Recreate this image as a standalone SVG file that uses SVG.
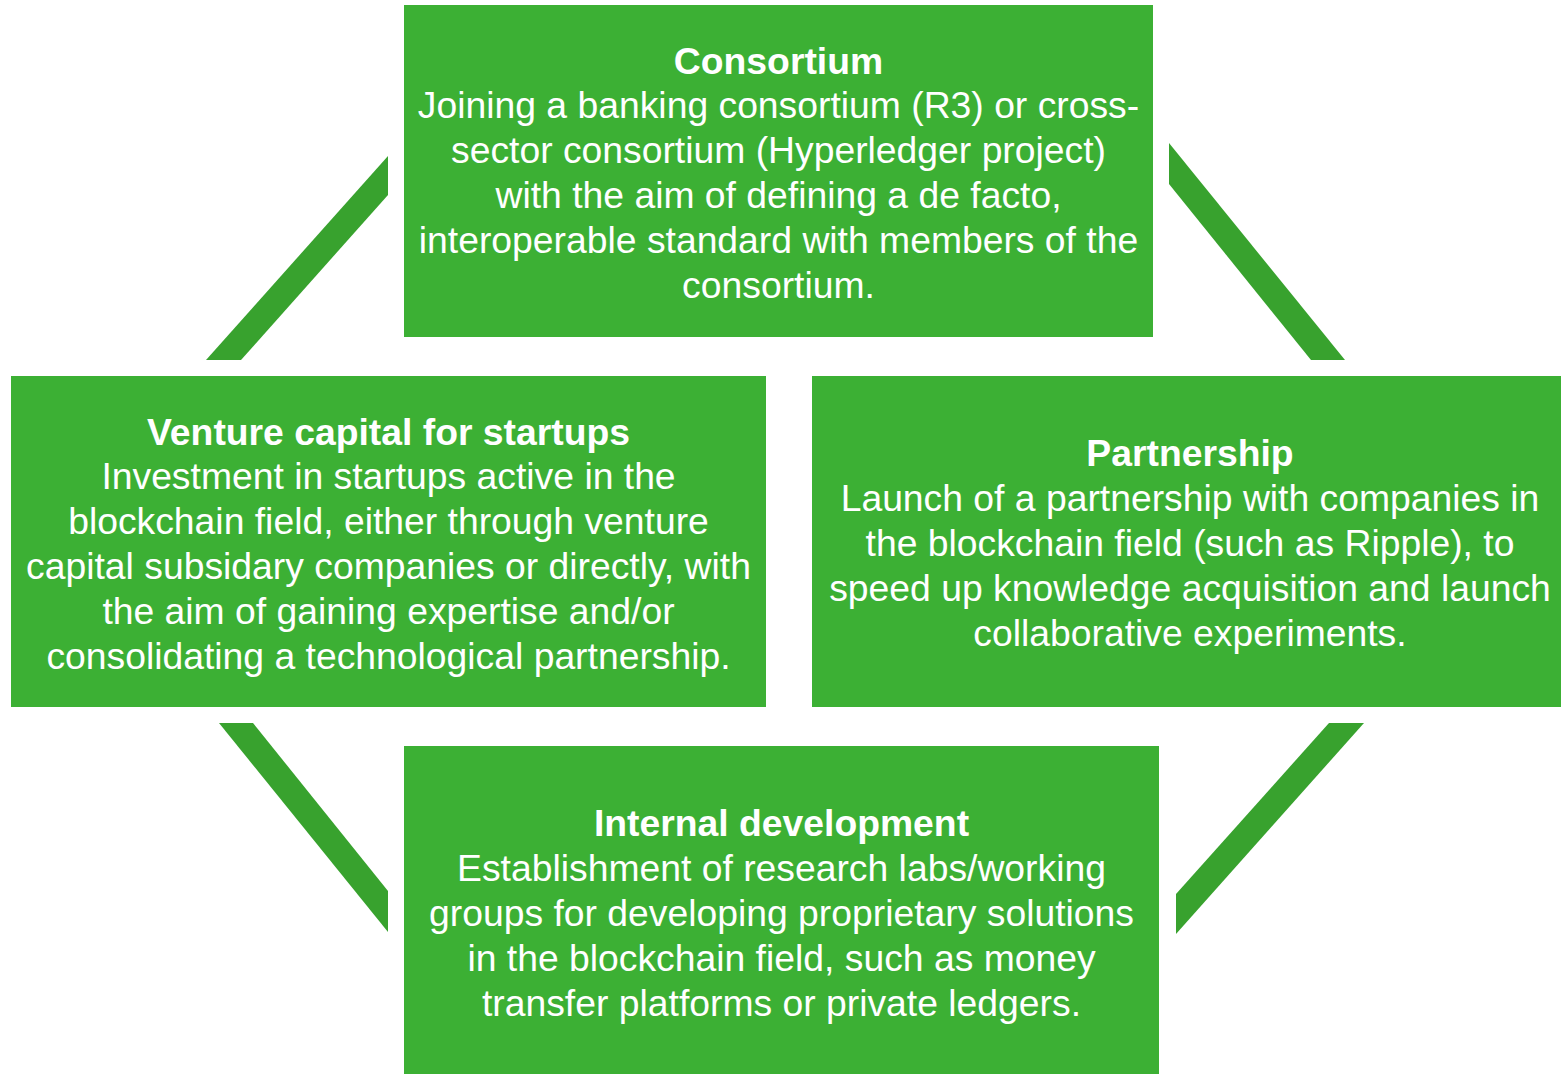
<svg xmlns="http://www.w3.org/2000/svg" width="1561" height="1074" viewBox="0 0 1561 1074">
<style>
.box{fill:#3CB034}
.conn{fill:#38A22E}
text{font-family:"Liberation Sans",Arial,sans-serif;font-size:37.3px;fill:#FFFFFF;text-anchor:middle}
.t{font-weight:bold}
</style>
<rect width="1561" height="1074" fill="#FFFFFF"/>
<g id="connectors">
<polygon class="conn" points="388,156 388,195 241,360 206,360"/>
<polygon class="conn" points="1169,143 1345,360 1311,360 1169,184"/>
<polygon class="conn" points="219,723 253,723 388,891 388,932"/>
<polygon class="conn" points="1329,723 1364,723 1176,934 1176,894"/>
</g>
<g id="consortium">
<rect class="box" x="404" y="5" width="749" height="332"/>
<text class="t" x="778.5" y="74">Consortium</text>
<text x="778.5" y="118">Joining a banking consortium (R3) or cross-</text>
<text x="778.5" y="163">sector consortium (Hyperledger project)</text>
<text x="778.5" y="208">with the aim of defining a de facto,</text>
<text x="778.5" y="253">interoperable standard with members of the</text>
<text x="778.5" y="298">consortium.</text>
</g>
<g id="venture">
<rect class="box" x="11" y="376" width="755" height="331"/>
<text class="t" x="388.5" y="445">Venture capital for startups</text>
<text x="388.5" y="489">Investment in startups active in the</text>
<text x="388.5" y="534">blockchain field, either through venture</text>
<text x="388.5" y="579">capital subsidary companies or directly, with</text>
<text x="388.5" y="624">the aim of gaining expertise and/or</text>
<text x="388.5" y="669">consolidating a technological partnership.</text>
</g>
<g id="partnership">
<rect class="box" x="812" y="376" width="749" height="331"/>
<text class="t" x="1190" y="466">Partnership</text>
<text x="1190" y="511">Launch of a partnership with companies in</text>
<text x="1190" y="556">the blockchain field (such as Ripple), to</text>
<text x="1190" y="601">speed up knowledge acquisition and launch</text>
<text x="1190" y="646">collaborative experiments.</text>
</g>
<g id="internal">
<rect class="box" x="404" y="746" width="755" height="328"/>
<text class="t" x="781.5" y="836">Internal development</text>
<text x="781.5" y="881">Establishment of research labs/working</text>
<text x="781.5" y="926">groups for developing proprietary solutions</text>
<text x="781.5" y="971">in the blockchain field, such as money</text>
<text x="781.5" y="1016">transfer platforms or private ledgers.</text>
</g>
</svg>
